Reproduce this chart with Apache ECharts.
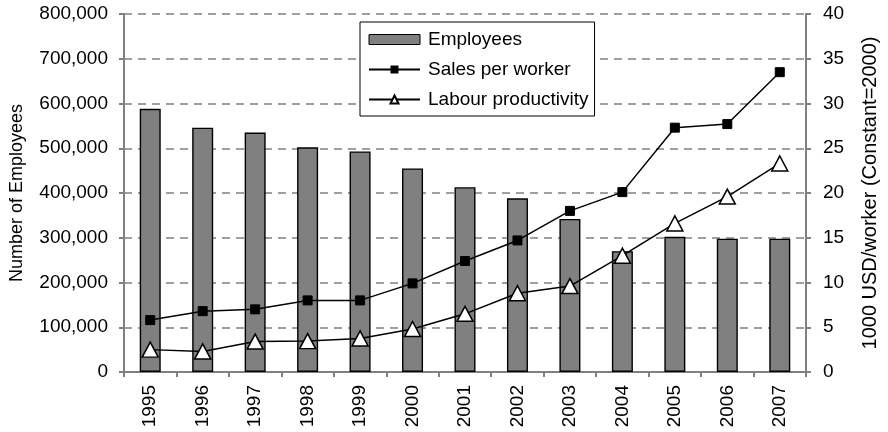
<!DOCTYPE html>
<html><head><meta charset="utf-8">
<script src="https://cdn.jsdelivr.net/npm/echarts@6/dist/echarts.min.js"></script>
<style>html,body{margin:0;padding:0;background:#fff}#c{width:888px;height:432px}</style>
</head><body><div id="c"></div>
<script>
const years = ['1995','1996','1997','1998','1999','2000','2001','2002','2003','2004','2005','2006','2007'];
const employees = [588000,546000,535000,502000,493000,455000,413000,388000,342000,270000,302000,298000,298000];
const salesPerWorker = [5.8,6.8,7.0,8.0,8.0,9.9,12.4,14.7,18.0,20.1,27.3,27.7,33.5];
const labourProductivity = [2.5,2.3,3.4,3.45,3.75,4.8,6.5,8.8,9.6,13.0,16.6,19.6,23.3];
const leftTicks = {min:0,max:800000,interval:100000};
const rightTicks = {min:0,max:40,interval:5};

const FONT = 'Liberation Sans';
const chart = echarts.init(document.getElementById('c'), null, {renderer:'canvas'});
const fmt = v => v.toString().replace(/\B(?=(\d{3})+(?!\d))/g, ',');
chart.setOption({
  animation:false,
  textStyle:{fontFamily:FONT},
  grid:{left:120,right:71,top:14,bottom:60,containLabel:false},
  legend:{
    orient:'vertical', left:360, top:22, width:241,
    backgroundColor:'#fff', borderColor:'#000', borderWidth:1,
    padding:[8,6,7,8], itemGap:11, itemWidth:51, itemHeight:10,
    textStyle:{fontFamily:FONT,fontSize:19,color:'#000',padding:[0,0,0,3]},
    data:[
      {name:'Employees', icon:'rect', itemStyle:{color:'#808080',borderColor:'#000',borderWidth:1}},
      {name:'Sales per worker'},
      {name:'Labour productivity'}
    ]
  },
  xAxis:{
    type:'category', data:years,
    axisLine:{lineStyle:{color:'#808080',width:2}},
    axisTick:{show:true,length:5,lineStyle:{color:'#808080',width:2},alignWithLabel:false},
    axisLabel:{rotate:90,fontSize:19,color:'#000',margin:13,fontFamily:FONT}
  },
  yAxis:[
    {type:'value', min:leftTicks.min, max:leftTicks.max, interval:leftTicks.interval,
     name:'Number of Employees', nameLocation:'middle', nameGap:98,
     nameTextStyle:{fontSize:18,color:'#000',fontFamily:FONT},
     axisLine:{show:true,lineStyle:{color:'#808080',width:2}},
     axisTick:{show:true,length:5,lineStyle:{color:'#808080',width:2}},
     axisLabel:{fontSize:19,color:'#000',margin:16,formatter:fmt,fontFamily:FONT},
     splitLine:{show:true,lineStyle:{color:'#808080',type:[8,6],width:1.5}}},
    {type:'value', min:rightTicks.min, max:rightTicks.max, interval:rightTicks.interval,
     name:'1000 USD/worker (Constant=2000)', nameLocation:'middle', nameGap:54,
     nameTextStyle:{fontSize:20,color:'#000',fontFamily:FONT},
     axisLine:{show:true,lineStyle:{color:'#808080',width:2}},
     axisTick:{show:true,length:5,lineStyle:{color:'#808080',width:2}},
     axisLabel:{fontSize:19,color:'#000',margin:17,fontFamily:FONT},
     splitLine:{show:false}}
  ],
  series:[
    {name:'Employees', type:'bar', yAxisIndex:0, data:employees, barWidth:21,
     itemStyle:{color:'#808080',borderColor:'#000',borderWidth:1.4}},
    {name:'Sales per worker', type:'line', yAxisIndex:1, data:salesPerWorker,
     symbol:'rect', symbolSize:9, lineStyle:{color:'#000',width:1.5},
     itemStyle:{color:'#000',borderColor:'#000'}},
    {name:'Labour productivity', type:'line', yAxisIndex:1, data:labourProductivity,
     symbol:'triangle', symbolSize:[16,15], lineStyle:{color:'#000',width:1.5},
     itemStyle:{color:'#fff',borderColor:'#000',borderWidth:1.5}}
  ]
});
</script></body></html>
